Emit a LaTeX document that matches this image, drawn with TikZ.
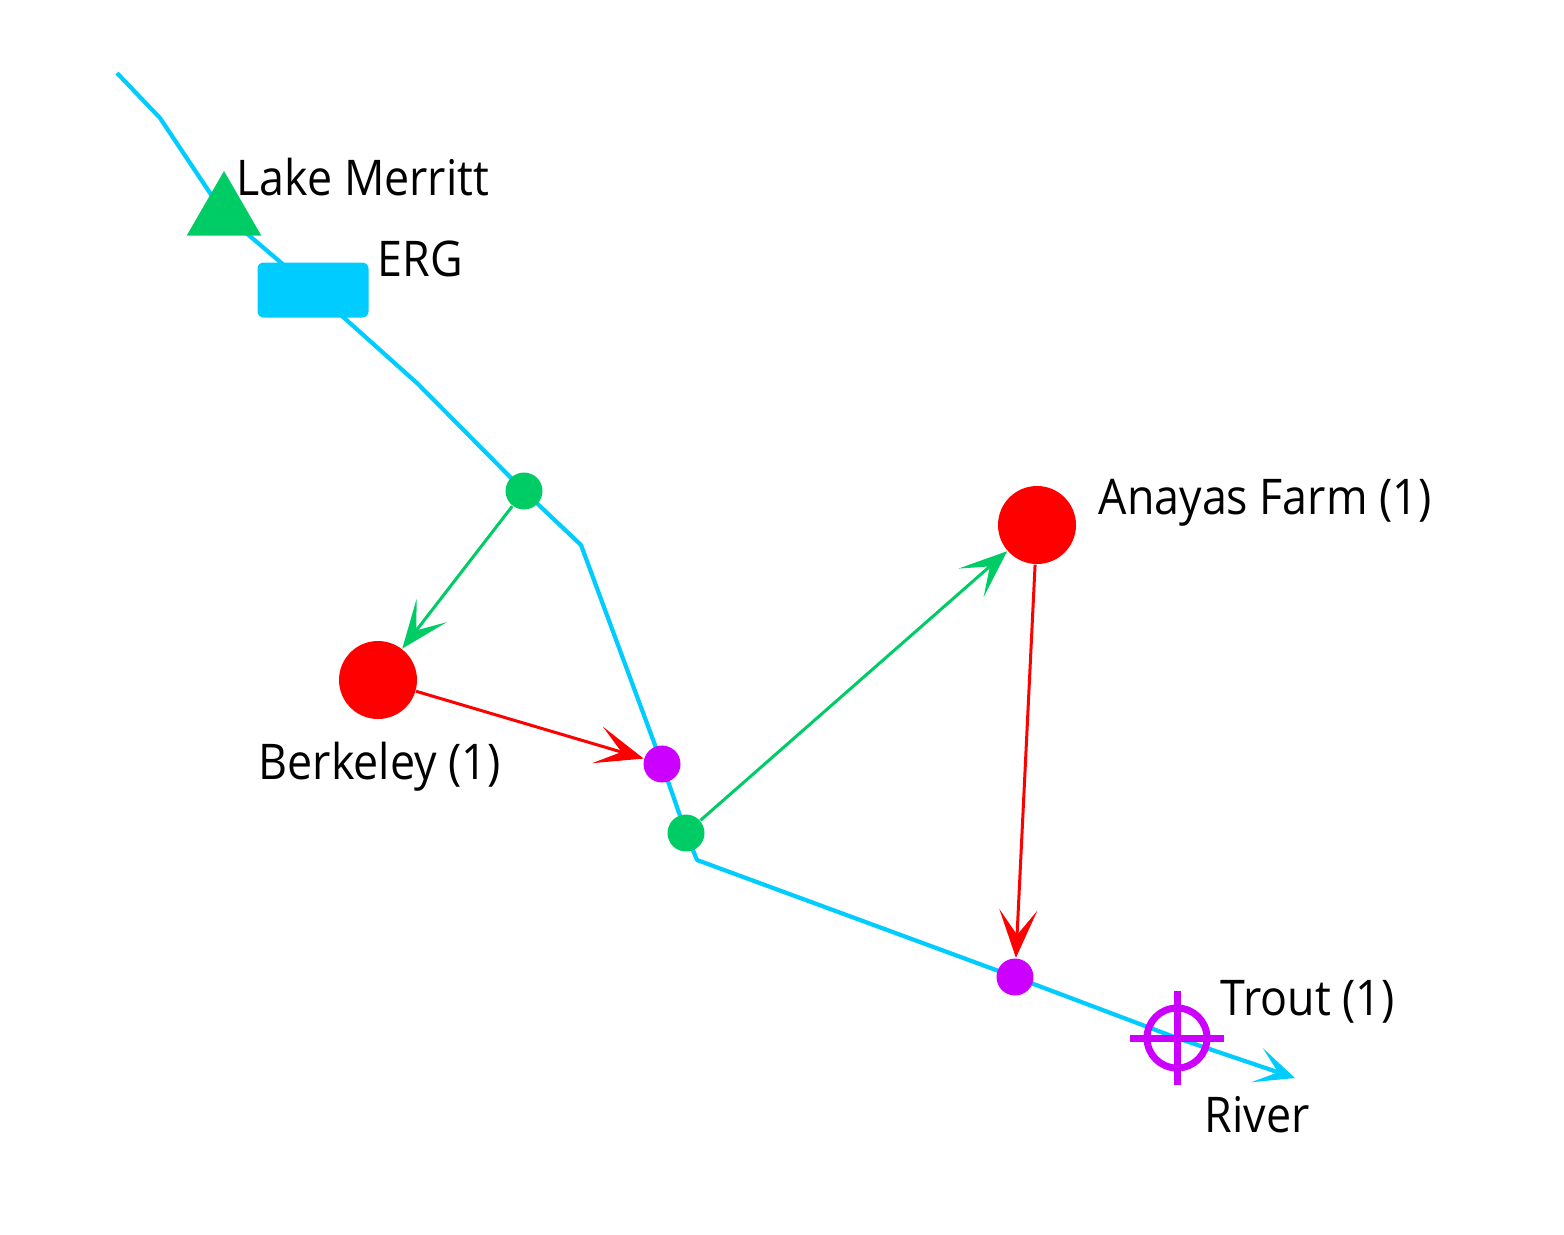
\documentclass[tikz,border=0pt]{standalone}
\usepackage{fontspec}
\setmainfont{Open Sans}[FakeStretch=0.91]
\usetikzlibrary{arrows.meta,shapes.geometric,backgrounds}
\definecolor{rivercol}{RGB}{0,204,255}
\definecolor{supplycol}{RGB}{0,204,102}
\definecolor{demandcol}{RGB}{255,0,0}
\definecolor{returncol}{RGB}{204,0,255}
\tikzstyle{junction}=[circle,fill=supplycol,minimum size=3.7mm,inner sep=0pt]
\tikzstyle{outflow}=[circle,fill=returncol,minimum size=3.7mm,inner sep=0pt]
\tikzstyle{site}=[circle,fill=demandcol,minimum size=7.8mm,inner sep=0pt]
\tikzstyle{river}=[draw=rivercol,line width=0.42mm,line join=round]
\tikzstyle{flow}=[line width=0.3mm,-{Stealth[length=4.8mm,width=3.8mm,inset=2.5mm]}]
\tikzstyle{lbl}=[anchor=base west,inner sep=0pt,font=\fontsize{14}{16}\selectfont]

\begin{document}
\begin{tikzpicture}[x=0.1mm,y=-0.1mm]
\useasboundingbox (0,0) rectangle (1564,1234);

%sites and junctions
    \node[junction] (g1) at (524,491) {};
    \node[junction] (g2) at (686,833) {};
    \node[outflow] (p1) at (662,764) {};
    \node[outflow] (p2) at (1015,977) {};
    \node[site] (berkeley) at (378,680) {};
    \node[site] (anayas) at (1037,525) {};
    \node[regular polygon,regular polygon sides=3,fill=supplycol,minimum size=8.6mm,inner sep=0pt] (lake) at (224,214) {};
    \node[rectangle,rounded corners=0.6mm,fill=rivercol,minimum width=11.1mm,minimum height=5.5mm,inner sep=0pt] (erg) at (313,290) {};
    \node[circle,draw=returncol,line width=0.7mm,minimum size=6mm,inner sep=0pt] (trout) at (1177,1038) {};
    \draw[returncol,line width=0.7mm] (trout.center) ++(-47,0) -- ++(94,0);
    \draw[returncol,line width=0.7mm] (trout.center) ++(0,-47) -- ++(0,94);

%river
    \coordinate (c0) at (117,73);
    \coordinate (c1) at (160,118);
    \coordinate (c2) at (418,384);
    \coordinate (c3) at (581,545);
    \coordinate (c4) at (697,860);
    \coordinate (c5) at (1295,1078);
  \begin{scope}[on background layer]
    \draw[river] (c0) -- (c1) -- (lake.center) -- (erg.center) -- (c2) -- (g1.center) -- (c3) -- (p1.center) -- (g2.center) -- (c4) -- (p2.center) -- (trout.center);
    \draw[river,-{Stealth[length=4mm,width=3.6mm,inset=2.2mm]}] (trout.center) -- (c5);
  \end{scope}

%links
  \foreach \source/\dest/\col in {g1/berkeley/supplycol, g2/anayas/supplycol, berkeley/p1/demandcol, anayas/p2/demandcol}
      \draw[flow,\col] (\source) -- (\dest);

%labels
\node[lbl] (lakelbl) at (236,195) {Lake Merritt};
\node[lbl] (erglbl) at (377,276) {ERG};
\node[lbl] (anayaslbl) at (1098,514) {Anayas Farm (1)};
\node[lbl] (berkeleylbl) at (258,779) {Berkeley (1)};
\node[lbl] (troutlbl) at (1220,1015) {Trout (1)};
\node[lbl] (riverlbl) at (1204,1132) {River};

   \end{tikzpicture}
\end{document}
